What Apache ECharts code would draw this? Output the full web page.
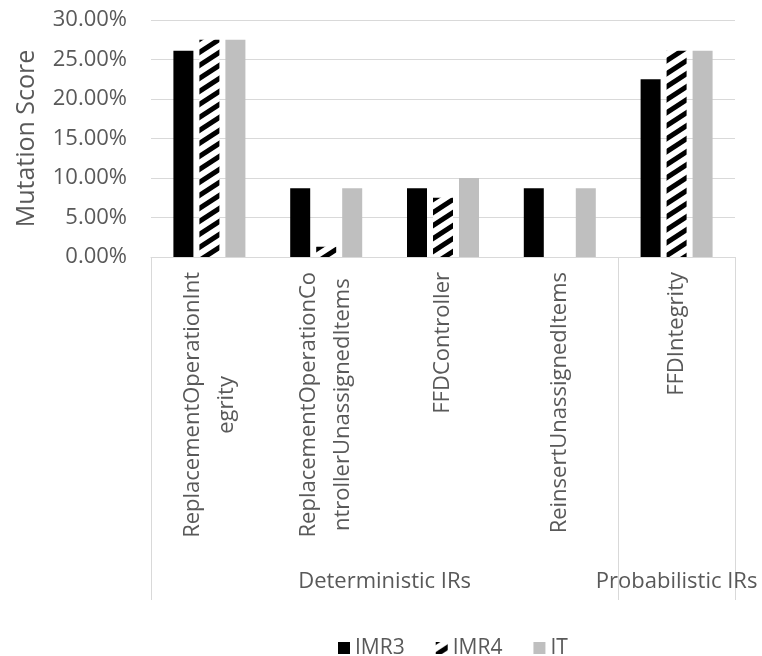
<!DOCTYPE html>
<html>
<head>
<meta charset="utf-8">
<script src="https://cdn.jsdelivr.net/npm/echarts@6/dist/echarts.min.js"></script>
<style>
  html, body { margin: 0; padding: 0; background: #ffffff; }
  #chart { width: 762px; height: 656px; }
</style>
</head>
<body>
<div id="chart"></div>
<script>
// Mutation score per invariant relation (IR), in percent
const categories = [
  'ReplacementOperationIntegrity',
  'ReplacementOperationControllerUnassignedItems',
  'FFDController',
  'ReinsertUnassignedItems',
  'FFDIntegrity'
];
// Tick labels as wrapped on the category axis
const tickLabels = [
  'ReplacementOperationInt\negrity',
  'ReplacementOperationCo\nntrollerUnassignedItems',
  'FFDController',
  'ReinsertUnassignedItems',
  'FFDIntegrity'
];
const seriesNames = ['IMR3', 'IMR4', 'IT'];
const imr3 = [26.1, 8.7, 8.7, 8.7, 22.5];
const imr4 = [27.5, 1.3, 7.5, 0, 26.1];
const it   = [27.5, 8.7, 10.0, 8.7, 26.1];

// Category groups: [name, first category index, last category index + 1]
const groups = [
  ['Deterministic IRs', 0, 4],
  ['Probabilistic IRs', 4, 5]
];

const FONT = 'Open Sans';
const TEXT = '#595959';
const LINE = '#d9d9d9';

// Diagonal black stripes on white, seamless tile
function stripePattern() {
  const w = 20, h = 13;
  const c = document.createElement('canvas');
  c.width = w; c.height = h;
  const g = c.getContext('2d');
  g.fillStyle = '#ffffff';
  g.fillRect(0, 0, w, h);
  g.strokeStyle = '#000000';
  g.lineWidth = 5;
  const segs = [
    [-w, 2 * h, 2 * w, -h],
    [-w, h, w, -h],
    [0, 2 * h, 2 * w, 0]
  ];
  segs.forEach(s => {
    g.beginPath();
    g.moveTo(s[0], s[1]);
    g.lineTo(s[2], s[3]);
    g.stroke();
  });
  return { image: c, repeat: 'repeat' };
}

const groupTicks = [];
groups.forEach(gr => { groupTicks.push(gr[1]); });
groupTicks.push(groups[groups.length - 1][2]);
const groupCenters = groups.map(gr => (gr[1] + gr[2]) / 2);

const chart = echarts.init(document.getElementById('chart'), null, { renderer: 'canvas' });

const barCommon = {
  type: 'bar',
  barWidth: 20,
  barGap: '30%',
  xAxisIndex: 0,
  yAxisIndex: 0
};

chart.setOption({
  animation: false,
  backgroundColor: '#ffffff',
  textStyle: { fontFamily: FONT },
  grid: { left: 151, right: 27, top: 20, bottom: 399 },
  legend: {
    data: seriesNames,
    left: 333,
    top: 631,
    icon: 'rect',
    itemWidth: 12,
    itemHeight: 12,
    itemGap: 31,
    textStyle: { fontFamily: FONT, fontSize: 21, color: TEXT, lineHeight: 24 }
  },
  xAxis: [
    {
      type: 'category',
      data: categories,
      axisLine: { show: true, lineStyle: { color: LINE, width: 1 } },
      axisTick: { show: false },
      splitLine: { show: false },
      axisLabel: {
        interval: 0,
        rotate: 90,
        margin: 15,
        color: TEXT,
        fontFamily: FONT,
        fontSize: 22,
        formatter: function (value, idx) {
          return tickLabels[idx].split('\n').map(l => '{c|' + l + '}').join('\n');
        },
        rich: {
          c: { align: 'center', fontFamily: FONT, fontSize: 22, lineHeight: 34, color: TEXT }
        }
      }
    },
    {
      // Group band axis: boundaries as long ticks, group names centred
      type: 'value',
      position: 'bottom',
      min: 0,
      max: categories.length,
      axisLine: { show: false },
      splitLine: { show: false },
      axisTick: {
        show: true,
        customValues: groupTicks,
        length: 343,
        lineStyle: { color: LINE, width: 1 }
      },
      axisLabel: {
        show: true,
        customValues: groupCenters,
        margin: 314,
        color: TEXT,
        fontFamily: FONT,
        fontSize: 22,
        lineHeight: 22,
        formatter: function (v) {
          const i = groupCenters.indexOf(v);
          return i >= 0 ? groups[i][0] : '';
        }
      }
    }
  ],
  yAxis: {
    type: 'value',
    min: 0,
    max: 30,
    interval: 5,
    name: 'Mutation Score',
    nameLocation: 'middle',
    nameRotate: 90,
    nameGap: 112,
    nameTextStyle: { fontFamily: FONT, fontSize: 25, color: TEXT },
    axisLine: { show: false },
    axisTick: { show: false },
    splitLine: { show: true, lineStyle: { color: LINE, width: 1 } },
    axisLabel: {
      margin: 24,
      color: TEXT,
      fontFamily: FONT,
      fontSize: 22,
      formatter: v => v.toFixed(2) + '%'
    }
  },
  series: [
    Object.assign({}, barCommon, { name: seriesNames[0], data: imr3, itemStyle: { color: '#000000' } }),
    Object.assign({}, barCommon, { name: seriesNames[1], data: imr4, itemStyle: { color: stripePattern() } }),
    Object.assign({}, barCommon, { name: seriesNames[2], data: it, itemStyle: { color: '#bfbfbf' } })
  ]
});
</script>
</body>
</html>
